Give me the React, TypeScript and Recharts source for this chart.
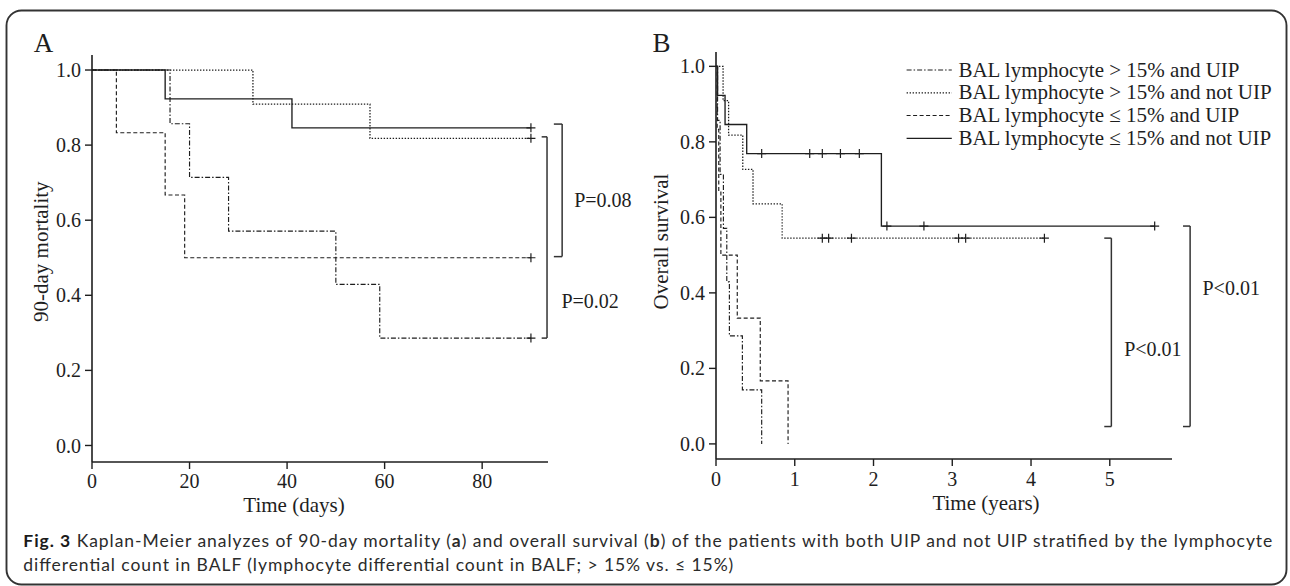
import React from 'react';
import { ComposedChart, Line, Scatter, XAxis, YAxis, ReferenceLine } from 'recharts';

// ---------- Panel A: 90-day mortality (days) ----------
const aXTicks = [0, 20, 40, 60, 80];
const aYTicks = [0, 0.2, 0.4, 0.6, 0.8, 1.0];
const aHighUip = [
  { x: 0, y: 1 }, { x: 16, y: 0.857 }, { x: 20, y: 0.714 }, { x: 28, y: 0.571 },
  { x: 50, y: 0.429 }, { x: 59, y: 0.286 }, { x: 90, y: 0.286 },
];
const aHighNotUip = [{ x: 0, y: 1 }, { x: 33, y: 0.909 }, { x: 57, y: 0.818 }, { x: 90, y: 0.818 }];
const aLowUip = [{ x: 0, y: 1 }, { x: 5, y: 0.833 }, { x: 15, y: 0.667 }, { x: 19, y: 0.5 }, { x: 90, y: 0.5 }];
const aLowNotUip = [{ x: 0, y: 1 }, { x: 15, y: 0.923 }, { x: 41, y: 0.846 }, { x: 90, y: 0.846 }];
const aCensorHighUip = [{ x: 90, y: 0.286 }];
const aCensorHighNotUip = [{ x: 90, y: 0.818 }];
const aCensorLowUip = [{ x: 90, y: 0.5 }];
const aCensorLowNotUip = [{ x: 90, y: 0.846 }];
const aBrackets = [
  { x0: 94.7, x1: 96.4, yTop: 0.856, yBottom: 0.503, text: 'P=0.08' },
  { x0: 92.2, x1: 93.3, yTop: 0.822, yBottom: 0.286, text: 'P=0.02' },
];

// ---------- Panel B: overall survival (years) ----------
const bXTicks = [0, 1, 2, 3, 4, 5];
const bYTicks = [0, 0.2, 0.4, 0.6, 0.8, 1.0];
const bHighUip = [
  { x: 0, y: 1 }, { x: 0.02, y: 0.857 }, { x: 0.052, y: 0.714 }, { x: 0.094, y: 0.571 },
  { x: 0.137, y: 0.429 }, { x: 0.17, y: 0.286 }, { x: 0.335, y: 0.143 }, { x: 0.58, y: 0 },
];
const bHighNotUip = [
  { x: 0, y: 1 }, { x: 0.09, y: 0.909 }, { x: 0.16, y: 0.818 }, { x: 0.34, y: 0.727 },
  { x: 0.47, y: 0.636 }, { x: 0.84, y: 0.545 }, { x: 4.17, y: 0.545 },
];
const bLowUip = [
  { x: 0, y: 1 }, { x: 0.015, y: 0.833 }, { x: 0.035, y: 0.667 }, { x: 0.062, y: 0.5 },
  { x: 0.27, y: 0.333 }, { x: 0.562, y: 0.167 }, { x: 0.915, y: 0 },
];
const bLowNotUip = [
  { x: 0, y: 1 }, { x: 0.02, y: 0.923 }, { x: 0.115, y: 0.846 }, { x: 0.39, y: 0.769 },
  { x: 2.1, y: 0.577 }, { x: 5.57, y: 0.577 },
];
const bCensorHighUip: { x: number; y: number }[] = [];
const bCensorHighNotUip = [
  { x: 1.35, y: 0.545 }, { x: 1.43, y: 0.545 }, { x: 1.72, y: 0.545 },
  { x: 3.08, y: 0.545 }, { x: 3.17, y: 0.545 }, { x: 4.17, y: 0.545 },
];
const bCensorLowUip: { x: number; y: number }[] = [];
const bCensorLowNotUip = [
  { x: 0.58, y: 0.769 }, { x: 1.19, y: 0.769 }, { x: 1.35, y: 0.769 }, { x: 1.58, y: 0.769 },
  { x: 1.82, y: 0.769 }, { x: 2.17, y: 0.577 }, { x: 2.64, y: 0.577 }, { x: 5.57, y: 0.577 },
];
const bBrackets = [
  { x0: 4.93, x1: 5.02, yTop: 0.545, yBottom: 0.046, text: 'P<0.01' },
  { x0: 5.93, x1: 6.02, yTop: 0.577, yBottom: 0.046, text: 'P<0.01' },
];

const seriesNames = [
  'BAL lymphocyte > 15% and UIP',
  'BAL lymphocyte > 15% and not UIP',
  'BAL lymphocyte ≤ 15% and UIP',
  'BAL lymphocyte ≤ 15% and not UIP',
];

// ---------- styles ----------
const SERIF = "'Liberation Serif', 'Times New Roman', serif";
const SANS = "Lato, 'Noto Sans', sans-serif";
const INK = '#1e1e1e';
const lineStyles = [
  { dash: '5 2 1.5 2', width: 1.15 },
  { dash: '1.4 1.6', width: 1.25 },
  { dash: '4 2.5', width: 1.15 },
  { dash: undefined as string | undefined, width: 1.35 },
];

type Pt = { x: number; y: number };
type Bracket = { x0: number; x1: number; yTop: number; yBottom: number; text: string };

const censorShape = (p: any) => {
  const { cx, cy } = p;
  if (cx == null || cy == null) return <g />;
  return (
    <path
      d={`M${cx - 4.5},${cy}H${cx + 4.5}M${cx},${cy - 4.5}V${cy + 4.5}`}
      stroke={INK}
      strokeWidth={1.2}
      fill="none"
    />
  );
};

const pLabel = (text: string, dx: number, dy: number) => (props: any) => {
  const vb = props.viewBox || {};
  return (
    <text
      x={vb.x + dx}
      y={vb.y + vb.height / 2 + dy}
      fontFamily={SERIF}
      fontSize={20}
      fill={INK}
    >
      {text}
    </text>
  );
};

type PanelProps = {
  left: number;
  width: number;
  margin: { top: number; right: number; bottom: number; left: number };
  xDomain: [number, number];
  yDomain: [number, number];
  xTicks: number[];
  yTicks: number[];
  lines: Pt[][];
  censors: Pt[][];
  brackets: Bracket[];
  labelOffsets: [number, number][];
  xTickMargin: number;
  xLabel: string;
  yLabel: string;
  xLabelPos: [number, number];
  yLabelPos: [number, number];
};

function KMPanel(props: PanelProps) {
  const {
    left, width, margin, xDomain, yDomain, xTicks, yTicks, lines, censors, brackets,
    labelOffsets, xTickMargin, xLabel, yLabel, xLabelPos, yLabelPos,
  } = props;
  const bracketEls: React.ReactNode[] = [];
  brackets.forEach((b, i) => {
    const common = { ifOverflow: 'visible' as const, stroke: '#333', strokeWidth: 1.5 };
    bracketEls.push(
      <ReferenceLine key={`bt${i}`} {...common} segment={[{ x: b.x0, y: b.yTop }, { x: b.x1, y: b.yTop }]} />,
    );
    bracketEls.push(
      <ReferenceLine
        key={`bv${i}`}
        {...common}
        segment={[{ x: b.x1, y: b.yTop }, { x: b.x1, y: b.yBottom }]}
        label={pLabel(b.text, labelOffsets[i][0], labelOffsets[i][1])}
      />,
    );
    bracketEls.push(
      <ReferenceLine key={`bb${i}`} {...common} segment={[{ x: b.x0, y: b.yBottom }, { x: b.x1, y: b.yBottom }]} />,
    );
  });
  return (
    <div style={{ position: 'absolute', left, top: 0 }}>
      <ComposedChart width={width} height={530} margin={margin}>
        <XAxis
          type="number"
          dataKey="x"
          domain={xDomain}
          allowDataOverflow
          ticks={xTicks}
          interval={0}
          tickSize={7}
          tickMargin={xTickMargin}
          axisLine={{ stroke: INK, strokeWidth: 1.6 }}
          tickLine={{ stroke: INK, strokeWidth: 1.4 }}
          tick={{ fill: INK, fontSize: 20, fontFamily: SERIF }}
          label={{
            content: () => (
              <text x={xLabelPos[0]} y={xLabelPos[1]} textAnchor="middle" fontFamily={SERIF} fontSize={21} fill={INK}>
                {xLabel}
              </text>
            ),
          }}
        />
        <YAxis
          type="number"
          domain={yDomain}
          allowDataOverflow
          ticks={yTicks}
          interval={0}
          tickSize={7}
          tickMargin={4}
          tickFormatter={(v: number) => v.toFixed(1)}
          axisLine={{ stroke: INK, strokeWidth: 1.6 }}
          tickLine={{ stroke: INK, strokeWidth: 1.4 }}
          tick={{ fill: INK, fontSize: 20, fontFamily: SERIF }}
          label={{
            content: () => (
              <text
                x={yLabelPos[0]}
                y={yLabelPos[1]}
                transform={`rotate(-90, ${yLabelPos[0]}, ${yLabelPos[1]})`}
                textAnchor="middle"
                fontFamily={SERIF}
                fontSize={21}
                fill={INK}
              >
                {yLabel}
              </text>
            ),
          }}
        />
        {lines.map((d, i) => (
          <Line
            key={`l${i}`}
            data={d}
            dataKey="y"
            type="stepAfter"
            stroke={INK}
            strokeWidth={lineStyles[i].width}
            strokeDasharray={lineStyles[i].dash}
            dot={false}
            activeDot={false}
            isAnimationActive={false}
            name={seriesNames[i]}
          />
        ))}
        {censors.map((d, i) => (
          <Scatter key={`c${i}`} data={d} dataKey="y" shape={censorShape} isAnimationActive={false} />
        ))}
        {bracketEls}
      </ComposedChart>
    </div>
  );
}

const legendBaselines = [76.5, 99.3, 122, 144.8];

export default function App() {
  return (
    <div
      style={{
        position: 'absolute',
        left: 0,
        top: 0,
        width: 1290,
        height: 586,
        background: '#fff',
        overflow: 'hidden',
      }}
    >
      <KMPanel
        left={0}
        width={640}
        margin={{ top: 55, right: 92, bottom: 38, left: 32 }}
        xDomain={[0, 93.5]}
        yDomain={[-0.044, 1.04]}
        xTicks={aXTicks}
        yTicks={aYTicks}
        lines={[aHighUip, aHighNotUip, aLowUip, aLowNotUip]}
        censors={[aCensorHighUip, aCensorHighNotUip, aCensorLowUip, aCensorLowNotUip]}
        brackets={aBrackets}
        labelOffsets={[[12, 16.3], [14.4, 71]]}
        xTickMargin={5}
        xLabel="Time (days)"
        yLabel="90-day mortality"
        xLabelPos={[294, 512]}
        yLabelPos={[47.6, 251.7]}
      />
      <KMPanel
        left={640}
        width={650}
        margin={{ top: 52, right: 118, bottom: 41, left: 16 }}
        xDomain={[0, 5.79]}
        yDomain={[-0.04, 1.038]}
        xTicks={bXTicks}
        yTicks={bYTicks}
        lines={[bHighUip, bHighNotUip, bLowUip, bLowNotUip]}
        censors={[bCensorHighUip, bCensorHighNotUip, bCensorLowUip, bCensorLowNotUip]}
        brackets={bBrackets}
        labelOffsets={[[12.8, 24], [12.4, -30.8]]}
        xTickMargin={6}
        xLabel="Time (years)"
        yLabel="Overall survival"
        xLabelPos={[346, 510]}
        yLabelPos={[28.1, 241.5]}
      />
      <svg
        width={1290}
        height={586}
        style={{ position: 'absolute', left: 0, top: 0, pointerEvents: 'none' }}
      >
        <rect x={6.5} y={10.5} width={1280} height={574} rx={15} ry={15} fill="none" stroke="#333" strokeWidth={1.9} />
        <text x={33.7} y={52} fontFamily={SERIF} fontSize={27} fill={INK}>A</text>
        <text x={652.4} y={52} fontFamily={SERIF} fontSize={27} fill={INK}>B</text>
        {seriesNames.map((n, i) => (
          <g key={n}>
            <line
              x1={906.6}
              x2={951.8}
              y1={legendBaselines[i] - 6.5}
              y2={legendBaselines[i] - 6.5}
              stroke={INK}
              strokeWidth={lineStyles[i].width}
              strokeDasharray={lineStyles[i].dash}
            />
            <text x={958.4} y={legendBaselines[i]} fontFamily={SERIF} fontSize={21} fill={INK}>
              {n}
            </text>
          </g>
        ))}
        <text x={23.3} y={547} fontFamily={SANS} fontSize={17.5} fill="#2b2b2b" textLength={1249} lengthAdjust="spacing">
          <tspan fontWeight="bold" fill="#1a1a1a">Fig. 3</tspan> Kaplan-Meier analyzes of 90-day mortality (
          <tspan fontWeight="bold">a</tspan>) and overall survival (<tspan fontWeight="bold">b</tspan>) of the patients with
          both UIP and not UIP stratified by the lymphocyte
        </text>
        <text x={23.3} y={571} fontFamily={SANS} fontSize={17.5} fill="#2b2b2b" textLength={710} lengthAdjust="spacing">
          differential count in BALF (lymphocyte differential count in BALF; &gt; 15% vs. ≤ 15%)
        </text>
      </svg>
    </div>
  );
}
